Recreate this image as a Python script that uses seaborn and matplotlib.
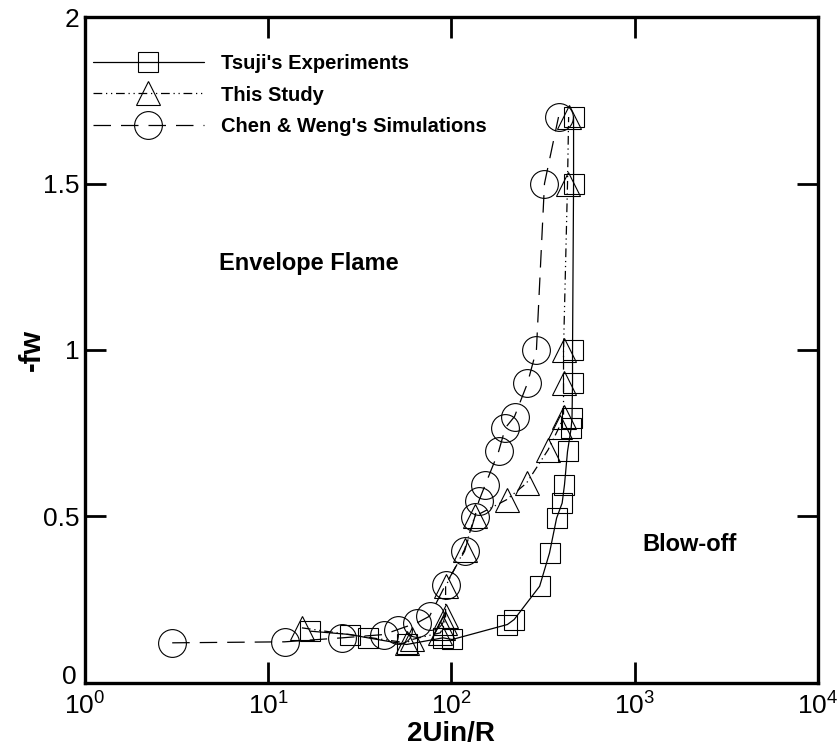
import matplotlib
matplotlib.use("Agg")
import matplotlib.pyplot as plt
import matplotlib.ticker as mticker
import matplotlib.transforms as mtransforms
from matplotlib import font_manager
import seaborn as sns
import pandas as pd

# ---- data ----
tsuji_x = [17, 28, 35, 57, 90, 101, 202, 220, 303, 343, 375, 402, 414, 430, 450, 455, 458, 458, 464, 464]
tsuji_y = [0.155, 0.145, 0.135, 0.115, 0.135, 0.13, 0.175, 0.19, 0.29, 0.39, 0.495, 0.54, 0.595, 0.695,
           0.765, 0.795, 0.90, 1.0, 1.5, 1.7]

study_x = [15.3, 57, 61, 87, 90, 92, 93, 93, 118, 134, 200, 257, 337, 389, 409, 409, 409, 430, 436]
study_y = [0.165, 0.12, 0.13, 0.15, 0.165, 0.18, 0.20, 0.29, 0.40, 0.50, 0.55, 0.60, 0.70, 0.77,
           0.80, 0.90, 1.0, 1.5, 1.7]

chen_x = [3.0, 12.3, 25.4, 43, 51, 65, 76, 93, 118, 134, 141, 153, 181, 197, 221, 260, 291, 322, 384]
chen_y = [0.12, 0.123, 0.135, 0.145, 0.16, 0.18, 0.20, 0.295, 0.395, 0.497, 0.545, 0.595, 0.695,
          0.766, 0.80, 0.90, 1.0, 1.5, 1.7]

series_names = ["Tsuji's Experiments", "This Study", "Chen & Weng's Simulations"]
x_ticks = [1, 10, 100, 1000, 10000]
y_ticks = [0, 0.5, 1, 1.5, 2]
y_tick_labels = ["0", "0.5", "1", "1.5", "2"]

sns.set_theme(style="white")
avail = {f.name for f in font_manager.fontManager.ttflist}
narrow = "Liberation Sans Narrow" if "Liberation Sans Narrow" in avail else "Liberation Sans"
plt.rcParams['font.family'] = ["Liberation Sans", "DejaVu Sans"]
plt.rcParams['mathtext.fontset'] = 'custom'
plt.rcParams['mathtext.rm'] = narrow
plt.rcParams['mathtext.it'] = narrow
plt.rcParams['text.color'] = 'black'
plt.rcParams['axes.labelcolor'] = 'black'
plt.rcParams['xtick.color'] = 'black'
plt.rcParams['ytick.color'] = 'black'

fig = plt.figure(figsize=(8.39, 7.47), dpi=100)
ax = fig.add_axes([0.101, 0.086, 0.874, 0.891])

df_t = pd.DataFrame({"x": tsuji_x, "y": tsuji_y})
df_s = pd.DataFrame({"x": study_x, "y": study_y})
df_c = pd.DataFrame({"x": chen_x, "y": chen_y})

common = dict(estimator=None, sort=False, ax=ax, color="black", linewidth=0.9,
              markerfacecolor="none", markeredgecolor="black", markeredgewidth=0.8)

sns.lineplot(data=df_t, x="x", y="y", marker="s", markersize=15, linestyle="-",
             label=series_names[0], **common)
sns.lineplot(data=df_s, x="x", y="y", marker="^", markersize=17,
             linestyle=(0, (7, 3, 1, 3, 1, 3)), label=series_names[1], **common)
sns.lineplot(data=df_c, x="x", y="y", marker="o", markersize=20,
             linestyle=(0, (14, 8)), label=series_names[2], **common)

ax.set_xscale("log")
ax.set_xlim(1, 10000)
ax.set_ylim(0, 2)
ax.xaxis.set_major_locator(mticker.FixedLocator(x_ticks))
ax.xaxis.set_major_formatter(mticker.LogFormatterMathtext())
ax.xaxis.set_minor_locator(mticker.NullLocator())
ax.set_yticks(y_ticks)
ax.set_yticklabels(y_tick_labels)

for lab in ax.get_xticklabels() + ax.get_yticklabels():
    lab.set_fontfamily([narrow, "DejaVu Sans"])
    lab.set_fontsize(19)
    lab.set_color("black")

ax.tick_params(axis="both", which="major", direction="in", length=15, width=2,
               top=True, right=True, bottom=True, left=True, colors="black")
ax.tick_params(axis="x", pad=7)
ax.tick_params(axis="y", pad=4)

# nudge the "0" y tick label up a little so it does not collide with 10^0
zero_lab = ax.get_yticklabels()[0]
zero_lab.set_transform(zero_lab.get_transform() +
                       mtransforms.ScaledTranslation(-2 / 72, 6 / 72, fig.dpi_scale_trans))

for sp in ax.spines.values():
    sp.set_linewidth(2.4)
    sp.set_color("black")
    sp.set_visible(True)

ax.set_xlabel("2Uin/R", fontsize=20, fontweight="bold", labelpad=1,
              fontfamily=[narrow, "DejaVu Sans"], color="black")
ax.set_ylabel("-fw", fontsize=21, fontweight="bold", labelpad=-2,
              fontfamily=[narrow, "DejaVu Sans"], color="black")

ax.text(16.7, 1.26, "Envelope Flame", fontsize=17, fontweight="bold", ha="center",
        va="center", color="black")
ax.text(2000, 0.415, "Blow-off", fontsize=17, fontweight="bold", ha="center",
        va="center", color="black")

leg = ax.legend(loc="upper left", frameon=False,
                borderaxespad=0.0, borderpad=0.0,
                handlelength=5.5, handletextpad=0.85, labelspacing=0.6,
                prop={"weight": "bold", "size": 14.5})
for t in leg.get_texts():
    t.set_color("black")
leg.set_bbox_to_anchor((8 / 733, 0.944), transform=ax.transAxes)

fig.savefig("out.png", dpi=100)
